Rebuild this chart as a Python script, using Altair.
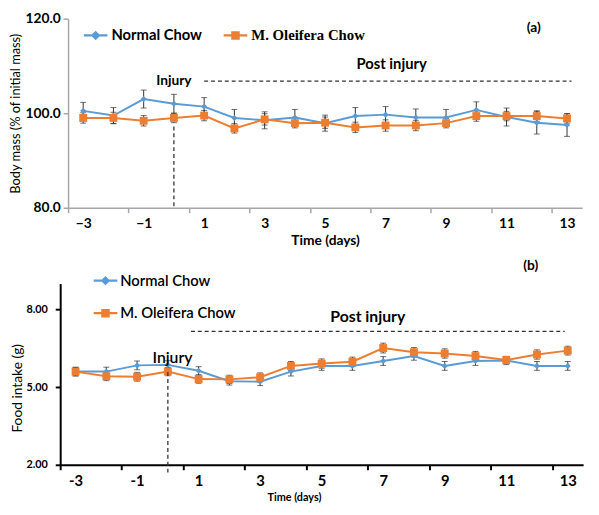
import altair as alt
import pandas as pd

days = list(range(-3, 14))
series_names = ["Normal Chow", "M. Oleifera Chow"]
colors = ["#5B9BD5", "#ED7D31"]

mass_normal = [100.5, 99.5, 103.0, 102.0, 101.4, 99.0, 98.5, 99.1, 97.9, 99.4, 99.7, 99.1, 99.1, 100.7, 99.2, 98.0, 97.5]
mass_normal_err = [1.8, 1.7, 1.9, 2.0, 1.9, 1.8, 1.8, 1.7, 1.7, 1.8, 1.7, 1.8, 1.7, 1.7, 1.9, 2.4, 2.4]
mass_oleifera = [99.0, 99.0, 98.4, 99.0, 99.5, 96.8, 98.7, 97.9, 98.0, 97.0, 97.4, 97.4, 97.9, 99.4, 99.4, 99.4, 98.9]
mass_oleifera_err = [1.1, 1.2, 1.1, 1.0, 1.1, 1.0, 1.2, 1.0, 1.2, 1.1, 1.2, 1.1, 1.0, 1.1, 1.0, 1.1, 1.0]

food_normal = [5.60, 5.60, 5.84, 5.86, 5.63, 5.23, 5.21, 5.60, 5.82, 5.82, 6.01, 6.20, 5.82, 6.01, 6.03, 5.82, 5.82]
food_normal_err = [0.16, 0.17, 0.17, 0.16, 0.16, 0.15, 0.15, 0.17, 0.17, 0.17, 0.17, 0.16, 0.17, 0.17, 0.16, 0.17, 0.17]
food_oleifera = [5.60, 5.42, 5.40, 5.60, 5.31, 5.30, 5.38, 5.82, 5.91, 5.98, 6.51, 6.35, 6.30, 6.20, 6.05, 6.26, 6.41]
food_oleifera_err = [0.17, 0.17, 0.17, 0.16, 0.16, 0.16, 0.17, 0.17, 0.18, 0.18, 0.19, 0.18, 0.18, 0.18, 0.12, 0.18, 0.17]

x_tick_values = [d - 0.5 for d in days] + [13.5]

FONT = "Lato"


def long_df(a, a_err, b, b_err):
    rows = []
    for name, vals, errs in [(series_names[0], a, a_err), (series_names[1], b, b_err)]:
        for d, v, e in zip(days, vals, errs):
            rows.append({"day": d, "series": name, "value": v, "lo": v - e, "hi": v + e})
    return pd.DataFrame(rows)


diamond_path = "M-1,-0.09L1,-0.09L1,0.09L-1,0.09Z M0,-0.4L0.4,0L0,0.4L-0.4,0Z"
square_path = "M-1,-0.09L1,-0.09L1,0.09L-1,0.09Z M-0.36,-0.36L0.36,-0.36L0.36,0.36L-0.36,0.36Z"

color_scale = alt.Scale(domain=series_names, range=colors)
shape_scale = alt.Scale(domain=series_names, range=[diamond_path, square_path])


def panel(df, W, H, shift, ydomain, yvalues, yfmt, minus, st, legend, annotations, dashes):
    ax_color = st["color"]
    span = W + shift
    if minus:
        lab = "(datum.value + 0.5) % 2 != 0 ? format(datum.value + 0.5, 'd') : ''"
    else:
        lab = "(datum.value + 0.5) % 2 != 0 ? '' + (datum.value + 0.5) : ''"
    x = alt.X(
        "day:Q",
        scale=alt.Scale(domain=[-3.5, 13.5], nice=False, zero=False, range=[-shift, W]),
        axis=alt.Axis(
            values=x_tick_values, labelExpr=lab, labelOffset=span / 17 / 2,
            labelOverlap=False, labelFlush=False, labelBound=False, grid=False, title="Time (days)",
            domainColor=ax_color, tickColor=ax_color, domainWidth=st["dw"],
            tickWidth=st["dw"], tickSize=5,
            labelFont=FONT, labelFontSize=st["xls"], labelFontWeight="bold", labelColor="black",
            labelPadding=4,
            titleFont=FONT, titleFontSize=st["xts"], titleFontWeight="bold", titleColor="black",
            titlePadding=st["xtp"], titleX=st["xtx"],
        ),
    )
    y_axis = alt.Axis(
        values=yvalues, format=yfmt, grid=False, title=st["ytitle"], offset=shift,
        domainColor=ax_color, tickColor=ax_color, domainWidth=st["dw"],
        tickWidth=st["dw"], tickSize=5,
        labelFont=FONT, labelFontSize=st["yls"], labelFontWeight="bold", labelColor="black",
        labelPadding=st["ylp"],
        titleFont=FONT, titleFontSize=st["yts"], titleFontWeight="normal", titleColor="black",
        titlePadding=st["ytp"], titleY=st["yty"],
    )
    y = alt.Y("value:Q", scale=alt.Scale(domain=ydomain, nice=False, zero=False), axis=y_axis)

    base = alt.Chart(df)
    rules = base.mark_rule(color="#333333", strokeWidth=1).encode(
        x=x, y=alt.Y("lo:Q"), y2="hi:Q"
    )
    caps_lo = base.mark_tick(color="#333333", thickness=1, size=6, orient="horizontal").encode(x=x, y=alt.Y("lo:Q"))
    caps_hi = base.mark_tick(color="#333333", thickness=1, size=6, orient="horizontal").encode(x=x, y=alt.Y("hi:Q"))
    layers = [rules, caps_lo, caps_hi]
    for name, col, shp, sz in [(series_names[0], colors[0], "diamond", 38),
                               (series_names[1], colors[1], "square", 64)]:
        sub = base.transform_filter(alt.datum.series == name)
        layers.append(sub.mark_line(strokeWidth=2, color=col).encode(x=x, y=y))
        layers.append(sub.mark_point(shape=shp, filled=True, size=sz, opacity=1, color=col).encode(x=x, y=y))
    leg = base.mark_point(filled=True, opacity=0).encode(
        x=x, y=y,
        color=alt.Color("series:N", scale=color_scale, legend=legend, title=None),
        shape=alt.Shape("series:N", scale=shape_scale, legend=legend, title=None),
    )
    layers.append(leg)

    for (x1, x2, y1, y2) in dashes:
        d = pd.DataFrame({"x1": [x1], "x2": [x2], "y1": [y1], "y2": [y2]})
        layers.append(
            alt.Chart(d).mark_rule(color="#333333", strokeWidth=1.3, strokeDash=[4, 3]).encode(
                x=alt.X("x1:Q"), x2="x2:Q", y=alt.Y("y1:Q"), y2="y2:Q"
            )
        )
    for (txt, tx, ty, fs, fw) in annotations:
        d = pd.DataFrame({"t": [txt], "x": [tx], "y": [ty]})
        layers.append(
            alt.Chart(d).mark_text(font=FONT, fontSize=fs, fontWeight=fw, color="black",
                                   align="center", baseline="middle").encode(
                x=alt.X("x:Q"), y=alt.Y("y:Q"), text="t:N"
            )
        )
    return alt.layer(*layers).properties(width=W, height=H)


df_mass = long_df(mass_normal, mass_normal_err, mass_oleifera, mass_oleifera_err)
df_food = long_df(food_normal, food_normal_err, food_oleifera, food_oleifera_err)

WT, HT = 522, 192
WB, HB, SB = 523, 184, 8

top_legend = alt.Legend(
    orient="none", legendX=16, legendY=5, direction="horizontal",
    symbolSize=576, symbolStrokeWidth=0, symbolOpacity=1, labelOffset=4, columnPadding=22, padding=0,
    labelFont=alt.ExprRef(expr="datum.label == 'M. Oleifera Chow' ? 'Liberation Serif' : 'Lato'"),
    labelFontSize=15, labelFontWeight="bold", labelColor="black",
)
bottom_legend = alt.Legend(
    orient="none", legendX=26, legendY=-15, direction="vertical",
    symbolSize=576, symbolStrokeWidth=0, symbolOpacity=1, labelOffset=3, rowPadding=13, padding=0,
    labelFont=FONT, labelFontSize=15, labelFontWeight=600, labelColor="black",
)

top = panel(
    df_mass, WT, HT, 0, [80, 120], [80, 100, 120], ".1f", True,
    {"color": "#A6A6A6", "dw": 1.5, "xls": 14, "xts": 14, "xtp": 3, "xtx": WT / 2,
     "yls": 14, "yts": 13, "ytp": 3, "ylp": 3, "yty": HT / 2, "ytitle": "Body mass (% of initial mass)"},
    top_legend,
    [("Injury", 0.0, 106.8, 14, "bold"), ("Post injury", 7.2, 110.4, 15, "bold"), ("(a)", 11.9, 118.0, 14, "bold")],
    [(1.0, 13.15, 106.8, 106.8), (0.0, 0.0, 97.2, 80.0)],
)
bottom = panel(
    df_food, WB, HB, SB, [2, 9], [2, 5, 8], ".2f", False,
    {"color": "black", "dw": 2, "xls": 15, "xts": 11, "xtp": 3, "xtx": (WB + SB) * 0.447 - SB,
     "yls": 11, "yts": 14, "ytp": 2, "ylp": 8, "yty": HB * 0.575, "ytitle": "Food intake (g)"},
    bottom_legend,
    [("Injury", 0.15, 6.13, 16, 600), ("Post injury", 6.5, 7.72, 16, "bold"), ("(b)", 11.8, 9.69, 14, "bold")],
    [(0.75, 12.9, 7.15, 7.15), (0.0, 0.0, 5.58, 1.7)],
)

chart = alt.ConcatChart(concat=[top, bottom], columns=1, spacing=11).properties(
    padding={"left": 1, "top": 0, "right": 0, "bottom": 0}
).resolve_scale(color="independent", shape="independent").resolve_legend(
    color="independent", shape="independent"
).configure_view(stroke=None)

chart.save("out.html", embed_options={"renderer": "svg", "actions": False})
